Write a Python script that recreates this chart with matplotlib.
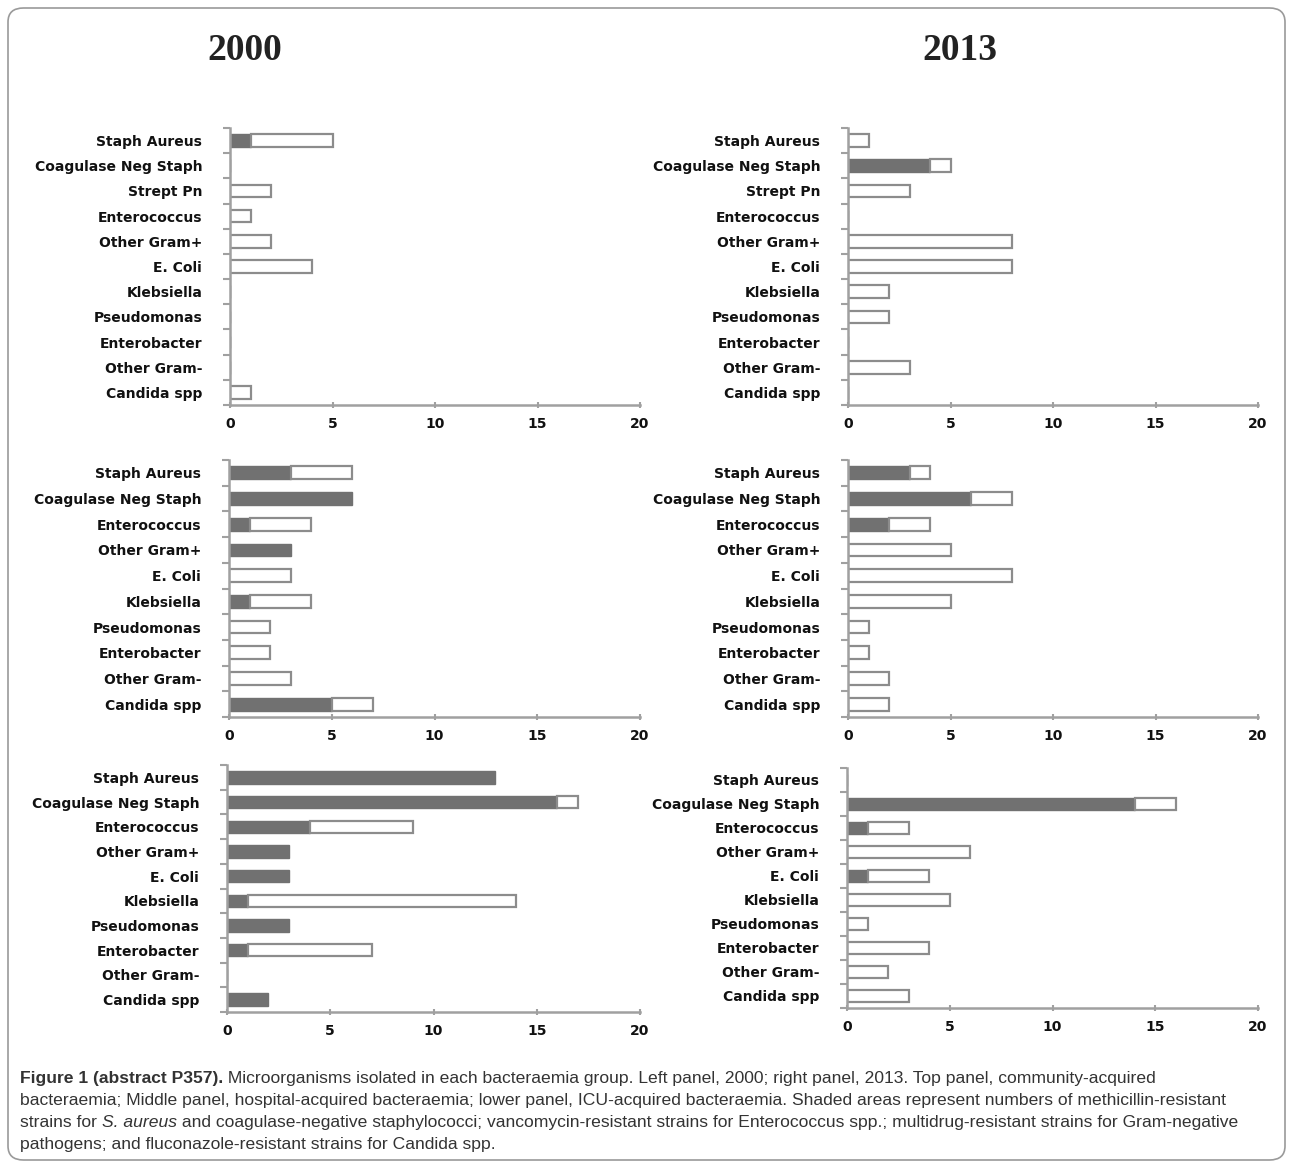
import numpy as np
import matplotlib.pyplot as plt
from matplotlib.patches import FancyBboxPatch

# categorias
cats_top = ["Staph Aureus", "Coagulase Neg Staph", "Strept Pn", "Enterococcus",
            "Other Gram+", "E. Coli", "Klebsiella", "Pseudomonas", "Enterobacter",
            "Other Gram-", "Candida spp"]
cats_low = ["Staph Aureus", "Coagulase Neg Staph", "Enterococcus", "Other Gram+",
            "E. Coli", "Klebsiella", "Pseudomonas", "Enterobacter", "Other Gram-",
            "Candida spp"]

# totales y resistentes (sombreado)
com2000_tot = [5, 0, 2, 1, 2, 4, 0, 0, 0, 0, 1]
com2000_res = [1, 0, 0, 0, 0, 0, 0, 0, 0, 0, 0]
com2013_tot = [1, 5, 3, 0, 8, 8, 2, 2, 0, 3, 0]
com2013_res = [0, 4, 0, 0, 0, 0, 0, 0, 0, 0, 0]

hos2000_tot = [6, 6, 4, 3, 3, 4, 2, 2, 3, 7]
hos2000_res = [3, 6, 1, 3, 0, 1, 0, 0, 0, 5]
hos2013_tot = [4, 8, 4, 5, 8, 5, 1, 1, 2, 2]
hos2013_res = [3, 6, 2, 0, 0, 0, 0, 0, 0, 0]

icu2000_tot = [13, 17, 9, 3, 3, 14, 3, 7, 0, 2]
icu2000_res = [13, 16, 4, 3, 3, 1, 3, 1, 0, 2]
icu2013_tot = [0, 16, 3, 6, 4, 5, 1, 4, 2, 3]
icu2013_res = [0, 14, 1, 0, 1, 0, 0, 0, 0, 0]

years = ["2000", "2013"]

W, H = 1292, 1166
fig = plt.figure(figsize=(W / 100, H / 100), dpi=100)

gris = '#717171'
borde = '#8c8c8c'
eje = '#a0a0a0'


def panel(rect, cats, tot, res):
    ax = fig.add_axes([rect[0] / W, 1 - rect[3] / H, (rect[2] - rect[0]) / W,
                       (rect[3] - rect[1]) / H])
    y = np.arange(len(cats))
    tot = np.array(tot)
    res = np.array(res)
    ax.barh(y, res, height=0.5, color=gris, edgecolor=gris, linewidth=1)
    blanco = tot - res
    mask = blanco > 0
    ax.barh(y[mask], blanco[mask], left=res[mask], height=0.5, color='white',
            edgecolor=borde, linewidth=1.6)
    ax.set_ylim(len(cats) - 0.5, -0.5)
    ax.set_xlim(0, 20)
    ax.set_xticks([0, 5, 10, 15, 20])
    ax.set_yticks(y)
    ax.set_yticklabels(cats, fontsize=10, fontweight='bold', color='#111111')
    ax.set_yticks(np.arange(len(cats) + 1) - 0.5, minor=True)
    ax.tick_params(axis='y', which='major', length=0, pad=20)
    ax.tick_params(axis='y', which='minor', length=5, color=eje, width=1.5)
    ax.tick_params(axis='x', length=5, color=eje, width=1.5, direction='inout',
                   labelsize=10, pad=6)
    for lab in ax.get_xticklabels():
        lab.set_fontweight('bold')
        lab.set_color('#111111')
    for s in ['top', 'right']:
        ax.spines[s].set_visible(False)
    for s in ['left', 'bottom']:
        ax.spines[s].set_color(eje)
        ax.spines[s].set_linewidth(1.8)
    return ax


# (izq, arriba, der, abajo) en pixeles
panel((230, 128, 640, 405), cats_top, com2000_tot, com2000_res)
panel((848, 128, 1258, 405), cats_top, com2013_tot, com2013_res)
panel((229, 460, 640, 717), cats_low, hos2000_tot, hos2000_res)
panel((848, 460, 1258, 717), cats_low, hos2013_tot, hos2013_res)
panel((227, 765, 640, 1012), cats_low, icu2000_tot, icu2000_res)
panel((847, 768, 1258, 1008), cats_low, icu2013_tot, icu2013_res)

# titulos de año
fig.text(245 / W, 1 - 50 / H, years[0], ha='center', va='center',
         family='Liberation Serif', fontweight='bold', fontsize=27, color='#222222')
fig.text(960 / W, 1 - 50 / H, years[1], ha='center', va='center',
         family='Liberation Serif', fontweight='bold', fontsize=27, color='#222222')

# marco redondeado
marco = FancyBboxPatch((8 / W, 1 - 1160 / H), 1277 / W, 1152 / H,
                       boxstyle='round,pad=0,rounding_size=0.012',
                       transform=fig.transFigure, fill=False,
                       edgecolor='#9a9a9a', linewidth=1.2)
fig.patches.append(marco)

# pie de figura
fam = ['Liberation Sans', 'DejaVu Sans']
fs = 12.6
col = '#333333'


def seguir(prev, texto, **kw):
    return plt.annotate(texto, xy=(1, 0), xycoords=prev, va='bottom', ha='left',
                        fontsize=fs, family=fam, color=col,
                        annotation_clip=False, **kw)


x0 = 20 / W
t = fig.text(x0, 1 - 1086 / H, "Figure 1 (abstract P357).", fontsize=fs,
             family=fam, fontweight='bold', color=col, va='bottom')
seguir(t, " Microorganisms isolated in each bacteraemia group. Left panel, 2000; "
          "right panel, 2013. Top panel, community-acquired")
fig.text(x0, 1 - 1108 / H,
         "bacteraemia; Middle panel, hospital-acquired bacteraemia; lower panel, "
         "ICU-acquired bacteraemia. Shaded areas represent numbers of methicillin-resistant",
         fontsize=fs, family=fam, color=col, va='bottom')
t = fig.text(x0, 1 - 1130 / H, "strains for ", fontsize=fs, family=fam,
             color=col, va='bottom')
t = seguir(t, "S. aureus", style='italic')
seguir(t, " and coagulase-negative staphylococci; vancomycin-resistant strains for "
          "Enterococcus spp.; multidrug-resistant strains for Gram-negative")
fig.text(x0, 1 - 1152 / H,
         "pathogens; and fluconazole-resistant strains for Candida spp.",
         fontsize=fs, family=fam, color=col, va='bottom')

fig.savefig('out.png', dpi=100, facecolor='white')
